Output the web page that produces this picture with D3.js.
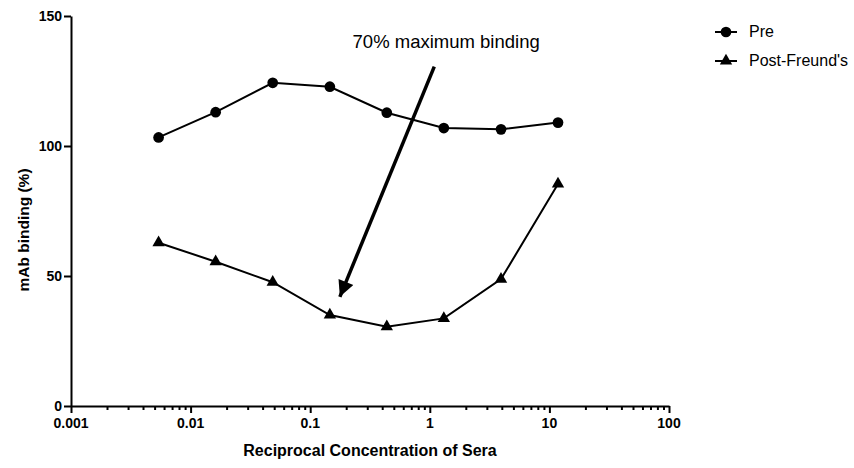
<!DOCTYPE html>
<html>
<head>
<meta charset="utf-8">
<script src="https://cdn.jsdelivr.net/npm/d3@7"></script>
<style>
  body { margin: 0; background: #fff; }
  svg { display: block; }
  text { font-family: "Liberation Sans", Arial, sans-serif; fill: #000; }
  .axis path, .axis line { stroke: #000; stroke-width: 2; }
</style>
</head>
<body>
<svg id="chart" width="854" height="468"></svg>
<script>
// data
const concentrations = [0.0054, 0.0162, 0.0486, 0.146, 0.437, 1.31, 3.94, 11.8];
const preValues = [103.3, 113.0, 124.3, 122.8, 112.8, 106.9, 106.4, 109.0];
const postValues = [62.8, 55.5, 47.6, 35.0, 30.5, 33.7, 48.8, 85.4];
const seriesNames = ['Pre', "Post-Freund's"];
const xTicks = [0.001, 0.01, 0.1, 1, 10, 100];
const xTickLabels = ['0.001', '0.01', '0.1', '1', '10', '100'];
const yTicks = [0, 50, 100, 150];
const arrowFrom = {x: 1.09, y: 130.5};
const arrowTo = {x: 0.177, y: 42};
const noteText = '70% maximum binding';
const notePos = {x: 1.37, y: 137.7};

const svg = d3.select('#chart');
const margin = {top: 16, left: 71};
const innerWidth = 598;
const innerHeight = 390;
const g = svg.append('g')
    .attr('transform', `translate(${margin.left}, ${margin.top})`);

const xScale = d3.scaleLog()
    .domain([0.001, 100])
    .range([0, innerWidth]);
const yScale = d3.scaleLinear()
    .domain([0, 150])
    .range([innerHeight, 0]);

// minor log ticks
const minorTicks = [];
xTicks.slice(0, -1).forEach(t => {
    for (let k = 2; k < 10; k++) minorTicks.push(t * k);
});

const minorG = g.append('g')
    .attr('class', 'axis')
    .attr('transform', `translate(0, ${innerHeight})`)
    .call(d3.axisBottom(xScale).tickValues(minorTicks).tickSize(4).tickFormat(''));
minorG.select('.domain').remove();
minorG.selectAll('.tick text').remove();

// axis lines and ticks; labels are drawn as plain texts below
const xAxisG = g.append('g')
    .attr('class', 'axis')
    .attr('transform', `translate(0, ${innerHeight})`)
    .call(d3.axisBottom(xScale).tickValues(xTicks).tickSize(7).tickSizeOuter(0));
xAxisG.selectAll('.tick text').remove();

const yAxisG = g.append('g')
    .attr('class', 'axis')
    .call(d3.axisLeft(yScale).tickValues(yTicks).tickSize(7).tickSizeOuter(0));
yAxisG.selectAll('.tick text').remove();

g.selectAll('.xlabel').data(xTicks)
    .enter().append('text')
        .attr('class', 'xlabel')
        .attr('x', d => xScale(d))
        .attr('y', innerHeight + 22)
        .attr('text-anchor', 'middle')
        .attr('font-weight', 'bold')
        .attr('font-size', 14)
        .text((d, i) => xTickLabels[i]);

g.selectAll('.ylabel').data(yTicks)
    .enter().append('text')
        .attr('class', 'ylabel')
        .attr('x', -9)
        .attr('y', d => yScale(d) + 5)
        .attr('text-anchor', 'end')
        .attr('font-weight', 'bold')
        .attr('font-size', 14)
        .text(d => d);

// axis titles
svg.append('text')
    .attr('x', margin.left + innerWidth / 2)
    .attr('y', 456)
    .attr('text-anchor', 'middle')
    .attr('font-weight', 'bold')
    .attr('font-size', 16)
    .text('Reciprocal Concentration of Sera');

svg.append('text')
    .attr('transform', 'translate(29, 230) rotate(-90)')
    .attr('text-anchor', 'middle')
    .attr('font-weight', 'bold')
    .attr('font-size', 15.5)
    .text('mAb binding (%)');

// series
const line = d3.line()
    .x(d => xScale(d[0]))
    .y(d => yScale(d[1]));

const preData = concentrations.map((c, i) => [c, preValues[i]]);
const postData = concentrations.map((c, i) => [c, postValues[i]]);

[preData, postData].forEach(data => {
    g.append('path')
        .datum(data)
        .attr('fill', 'none')
        .attr('stroke', '#000')
        .attr('stroke-width', 2)
        .attr('d', line);
});

const circle = d3.symbol().type(d3.symbolCircle).size(90);
const triangle = d3.symbol().type(d3.symbolTriangle).size(66);

g.selectAll('.pre-pt').data(preData)
    .enter().append('path')
        .attr('class', 'pre-pt')
        .attr('transform', d => `translate(${xScale(d[0])}, ${yScale(d[1])})`)
        .attr('d', circle);

g.selectAll('.post-pt').data(postData)
    .enter().append('path')
        .attr('class', 'post-pt')
        .attr('transform', d => `translate(${xScale(d[0])}, ${yScale(d[1])})`)
        .attr('d', triangle);

// annotation arrow
svg.append('defs').append('marker')
    .attr('id', 'head')
    .attr('viewBox', '0 0 10 10')
    .attr('refX', 10)
    .attr('refY', 5)
    .attr('markerUnits', 'userSpaceOnUse')
    .attr('markerWidth', 22)
    .attr('markerHeight', 16)
    .attr('orient', 'auto')
  .append('path')
    .attr('d', 'M0,0 L10,5 L0,10 Z')
    .attr('fill', '#000');

g.append('line')
    .attr('x1', xScale(arrowFrom.x))
    .attr('y1', yScale(arrowFrom.y))
    .attr('x2', xScale(arrowTo.x))
    .attr('y2', yScale(arrowTo.y))
    .attr('stroke', '#000')
    .attr('stroke-width', 3.5)
    .attr('marker-end', 'url(#head)');

g.append('text')
    .attr('x', xScale(notePos.x))
    .attr('y', yScale(notePos.y))
    .attr('text-anchor', 'middle')
    .attr('font-size', 18.5)
    .text(noteText);

// legend
const legend = svg.append('g').attr('transform', 'translate(715, 32)');
const symbols = [circle, triangle];
seriesNames.forEach((name, i) => {
    const row = legend.append('g').attr('transform', `translate(0, ${i * 29})`);
    row.append('line')
        .attr('x1', 0).attr('x2', 22)
        .attr('stroke', '#000').attr('stroke-width', 2);
    row.append('path')
        .attr('transform', 'translate(11, 0)')
        .attr('d', symbols[i]);
    row.append('text')
        .attr('x', 34)
        .attr('y', 5)
        .attr('font-size', 16)
        .text(name);
});
</script>
</body>
</html>
